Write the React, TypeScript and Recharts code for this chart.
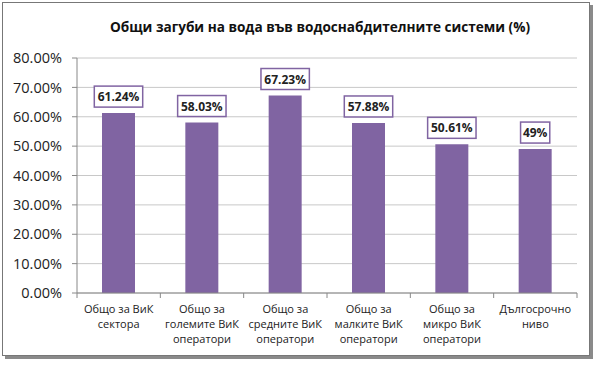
import { Bar, BarChart, CartesianGrid, LabelList, XAxis, YAxis } from "recharts";

const categories = [
  "Общо за ВиК сектора",
  "Общо за големите ВиК оператори",
  "Общо за средните ВиК оператори",
  "Общо за малките ВиК оператори",
  "Общо за микро ВиК оператори",
  "Дългосрочно ниво",
];
const categoryLines = [
  ["Общо за ВиК", "сектора"],
  ["Общо за", "големите ВиК", "оператори"],
  ["Общо за", "средните ВиК", "оператори"],
  ["Общо за", "малките ВиК", "оператори"],
  ["Общо за", "микро ВиК", "оператори"],
  ["Дългосрочно", "ниво"],
];
const losses = [0.6124, 0.5803, 0.6723, 0.5788, 0.5061, 0.49];
const valueLabels = ["61.24%", "58.03%", "67.23%", "57.88%", "50.61%", "49%"];
const yTicks = [0, 0.1, 0.2, 0.3, 0.4, 0.5, 0.6, 0.7, 0.8];

const data = categories.map((name, i) => ({ name, value: losses[i], label: valueLabels[i] }));

const FONT = "'Open Sans', 'DejaVu Sans', sans-serif";
const PURPLE = "#8064A2";
const BAND = 500 / 6;

function CategoryTick(props: any) {
  const { x, y, payload, index } = props;
  const lines = categoryLines[index] ?? [payload.value];
  return (
    <g>
      <line x1={x - BAND / 2} x2={x - BAND / 2} y1={y - 8} y2={y - 3} stroke="#888" />
      {index === categories.length - 1 && (
        <line x1={x + BAND / 2} x2={x + BAND / 2} y1={y - 8} y2={y - 3} stroke="#888" />
      )}
      <text x={x} y={y} textAnchor="middle" fontSize={11} fill="#222" fontFamily={FONT}>
        {lines.map((l: string, k: number) => (
          <tspan key={k} x={x} dy={k === 0 ? 12 : 15}>
            {l}
          </tspan>
        ))}
      </text>
    </g>
  );
}

function ValueBox(props: any) {
  const { x, y, width, index } = props;
  const text = valueLabels[index];
  const w = text.length * 6.4 + 10;
  const cx = x + width / 2;
  const top = y - 6 - 21;
  return (
    <g>
      <rect x={cx - w / 2} y={top} width={w} height={21} fill="#fff" stroke={PURPLE} strokeWidth={1.5} />
      <text x={cx} y={top + 15} textAnchor="middle" fontSize={12} fontWeight="bold" fill="#222" fontFamily={FONT}>
        {text}
      </text>
    </g>
  );
}

export default function App() {
  return (
    <div style={{ position: "absolute", left: 0, top: 0, width: 599, height: 365, background: "#fff" }}>
      <div
        style={{
          position: "absolute",
          left: 2,
          top: 2,
          width: 586,
          height: 352,
          border: "1px solid #777",
          boxShadow: "3px 3px 0 #8a8a8a",
        }}
      />
      <div
        style={{
          position: "absolute",
          left: 0,
          top: 17,
          width: 640,
          textAlign: "center",
          fontFamily: FONT,
          fontWeight: "bold",
          fontSize: 13.6,
          color: "#111",
        }}
      >
        Общи загуби на вода във водоснабдителните системи (%)
      </div>
      <BarChart width={599} height={365} data={data} margin={{ top: 58, right: 22, bottom: 12, left: 0 }} style={{ position: "absolute", left: 0, top: 0 }}>
        <CartesianGrid stroke="#c8c8c8" vertical={false} />
        <XAxis dataKey="name" height={60} interval={0} axisLine={{ stroke: "#888" }} tickLine={false} tick={<CategoryTick />} />
        <YAxis
          width={77}
          domain={[0, 0.8]}
          ticks={yTicks}
          interval={0}
          axisLine={{ stroke: "#888" }}
          tickLine={{ stroke: "#888" }}
          tickSize={5}
          tickMargin={10}
          tick={{ fontSize: 14.5, fill: "#222", fontFamily: FONT }}
          tickFormatter={(v) => `${(Number(v) * 100).toFixed(2)}%`}
        />
        <Bar dataKey="value" fill={PURPLE} barSize={33} isAnimationActive={false}>
          <LabelList dataKey="label" content={<ValueBox />} />
        </Bar>
      </BarChart>
    </div>
  );
}
